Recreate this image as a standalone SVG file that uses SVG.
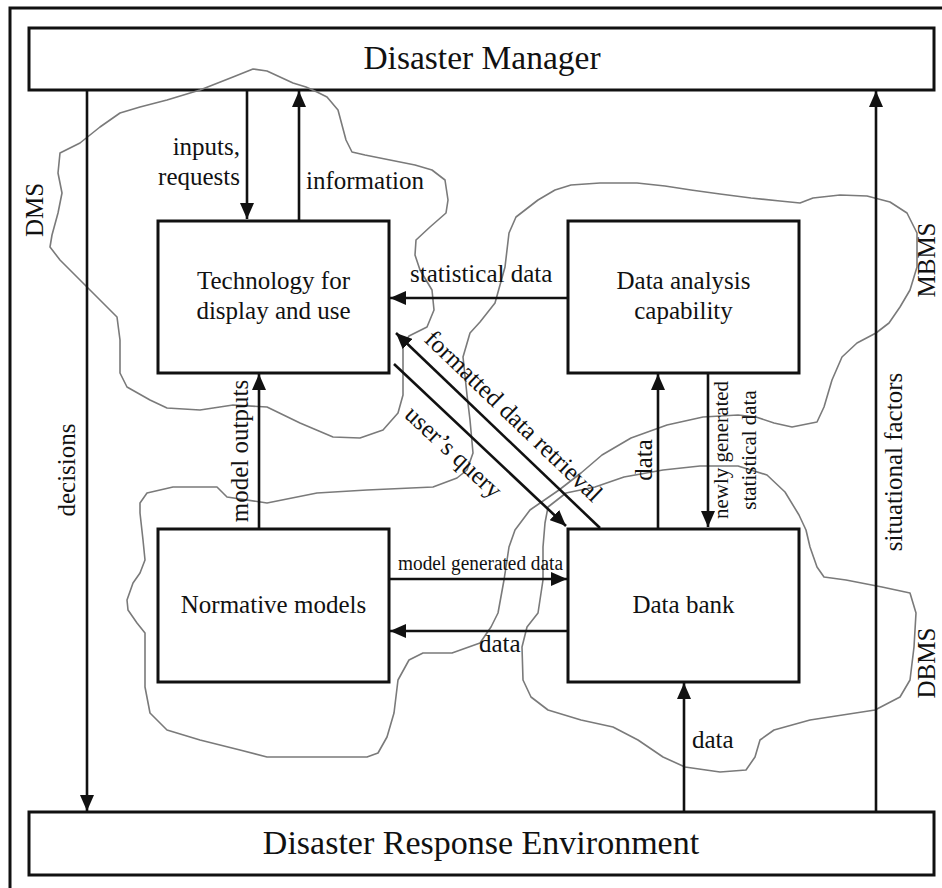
<svg xmlns="http://www.w3.org/2000/svg" width="942" height="888" viewBox="0 0 942 888">
<defs>
<marker id="ah" markerUnits="userSpaceOnUse" markerWidth="16" markerHeight="14" refX="16" refY="7" orient="auto">
<path d="M0,0 L16,7 L0,14 z" fill="#111"/>
</marker>
</defs>
<style>
.box{fill:#fff;stroke:#111;stroke-width:3}
.frame{fill:none;stroke:#111;stroke-width:3}
.ln{stroke:#111;stroke-width:2.6;fill:none}
.cloud{fill:none;stroke:#7a7a7a;stroke-width:1.6;stroke-linejoin:round}
text{font-family:"Liberation Serif","Times New Roman",serif;fill:#111;font-size:25px}
.big{font-size:33.5px}
.mid{text-anchor:middle}
.end{text-anchor:end}
.sm{font-size:20px}
.sm2{font-size:21px}
</style>
<rect width="942" height="888" fill="#fff"/>
<rect class="frame" x="10" y="8" width="940" height="900"/>

<g id="disaster-manager">
<rect class="box" x="29" y="28" width="905" height="62"/>
<text class="big mid" x="482" y="69">Disaster Manager</text>
</g>
<g id="disaster-response-environment">
<rect class="box" x="29" y="812" width="905" height="63"/>
<text class="big mid" x="481" y="854" style="font-size:34px">Disaster Response Environment</text>
</g>
<g id="technology">
<rect class="box" x="158" y="221" width="231" height="152"/>
<text class="mid" x="273.5" y="289">Technology for</text>
<text class="mid" x="273.5" y="319">display and use</text>
</g>
<g id="data-analysis">
<rect class="box" x="568" y="221" width="231" height="152"/>
<text class="mid" x="683.5" y="289">Data analysis</text>
<text class="mid" x="683.5" y="319">capability</text>
</g>
<g id="normative-models">
<rect class="box" x="158" y="529" width="231" height="153"/>
<text class="mid" x="273.5" y="613">Normative models</text>
</g>
<g id="data-bank">
<rect class="box" x="568" y="529" width="231" height="153"/>
<text class="mid" x="683.5" y="613">Data bank</text>
</g>

<g id="clouds">
<polygon id="dms-cloud" class="cloud" points="60,153 80,143 100,127 120,113 140,107 167,100 200,90 233,77 253,69 267,71 293,83 306,87 317,92 327,97 338,110 342,125 346,140 352,152 365,155 390,160 415,165 432,170 445,180 448,200 446,213 430,227 416,240 415,255 420,270 432,290 434,310 427,327 409,336 403,345 403,370 403,395 398,413 383,430 360,438 333,437 300,423 267,407 233,405 200,410 167,408 150,400 127,387 120,373 120,340 117,317 87,287 60,260 50,247 52,235 58,213 62,193 58,173"/>
<polygon id="mbms-cloud" class="cloud" points="538,200 555,190 571,185 600,183 637,183 665,186 691,190 720,194 751,198 780,201 800,203 813,198 840,195 867,196 890,202 907,213 917,233 917,267 910,290 900,307 889,323 876,333 857,343 842,357 832,380 824,407 817,422 792,427 774,423 756,417 738,415 703,417 667,425 631,438 602,455 581,473 559,490 530,510 515,530 509,547 504,580 498,613 491,627 480,643 452,653 423,653 409,660 398,680 394,713 387,737 378,753 367,757 300,757 267,757 240,750 200,740 167,730 150,713 145,687 145,633 137,623 128,610 127,600 133,583 140,573 145,560 143,540 140,513 140,503 147,493 173,487 217,487 227,497 267,503 317,493 367,490 433,487 457,478 467,470 473,453 470,420 467,395 463,357 470,333 480,322 495,303 505,267 509,233 516,217"/>
<polygon id="dbms-cloud" class="cloud" points="545,523 548,507 566,493 595,487 624,477 663,470 700,466 738,466 767,475 785,492 799,515 806,530 810,547 817,567 824,577 846,580 882,587 910,593 916,613 914,647 910,680 900,697 875,710 810,720 774,730 760,740 755,757 746,770 720,772 685,767 663,757 638,740 613,727 581,720 548,710 531,697 523,680 522,647 527,627 538,613 543,580 543,547"/>
</g>

<g id="connectors">
<line class="ln" x1="87" y1="90" x2="87" y2="811" marker-end="url(#ah)"/>
<line class="ln" x1="247" y1="90" x2="247" y2="219" marker-end="url(#ah)"/>
<line class="ln" x1="299" y1="220" x2="299" y2="91" marker-end="url(#ah)"/>
<line class="ln" x1="876" y1="812" x2="876" y2="91" marker-end="url(#ah)"/>
<line class="ln" x1="568" y1="298" x2="390" y2="298" marker-end="url(#ah)"/>
<line class="ln" x1="259" y1="528" x2="259" y2="374" marker-end="url(#ah)"/>
<line class="ln" x1="658" y1="528" x2="658" y2="374" marker-end="url(#ah)"/>
<line class="ln" x1="708" y1="373" x2="708" y2="527" marker-end="url(#ah)"/>
<line class="ln" x1="389" y1="579" x2="567" y2="579" marker-end="url(#ah)"/>
<line class="ln" x1="568" y1="631" x2="390" y2="631" marker-end="url(#ah)"/>
<line class="ln" x1="684" y1="812" x2="684" y2="683" marker-end="url(#ah)"/>
<line class="ln" x1="600" y1="528" x2="396" y2="333" marker-end="url(#ah)"/>
<line class="ln" x1="394" y1="364" x2="566" y2="526" marker-end="url(#ah)"/>
</g>

<g id="labels">
<text class="end" x="240" y="155">inputs,</text>
<text class="end" x="240" y="185">requests</text>
<text x="306" y="189">information</text>
<text x="410" y="282">statistical data</text>
<text class="sm" x="398" y="570" textLength="165" lengthAdjust="spacingAndGlyphs">model generated data</text>
<text x="479" y="652">data</text>
<text x="692" y="748">data</text>
<text class="mid" transform="translate(43,210) rotate(-90)">DMS</text>
<text class="mid" transform="translate(75,470) rotate(-90)">decisions</text>
<text class="mid" transform="translate(248,451) rotate(-90)">model outputs</text>
<text class="mid" transform="translate(652,460) rotate(-90)">data</text>
<text class="mid sm2" transform="translate(728,450) rotate(-90)">newly generated</text>
<text class="mid sm2" transform="translate(756,450) rotate(-90)">statistical data</text>
<text class="mid" transform="translate(902,462) rotate(-90)">situational factors</text>
<text class="mid" transform="translate(935,260) rotate(-90)">MBMS</text>
<text class="mid" transform="translate(935,663) rotate(-90)">DBMS</text>
<text class="mid" transform="translate(508,422) rotate(43.8)">formatted data retrieval</text>
<text class="mid" transform="translate(448,458) rotate(42.9)">user’s query</text>
</g>
</svg>
